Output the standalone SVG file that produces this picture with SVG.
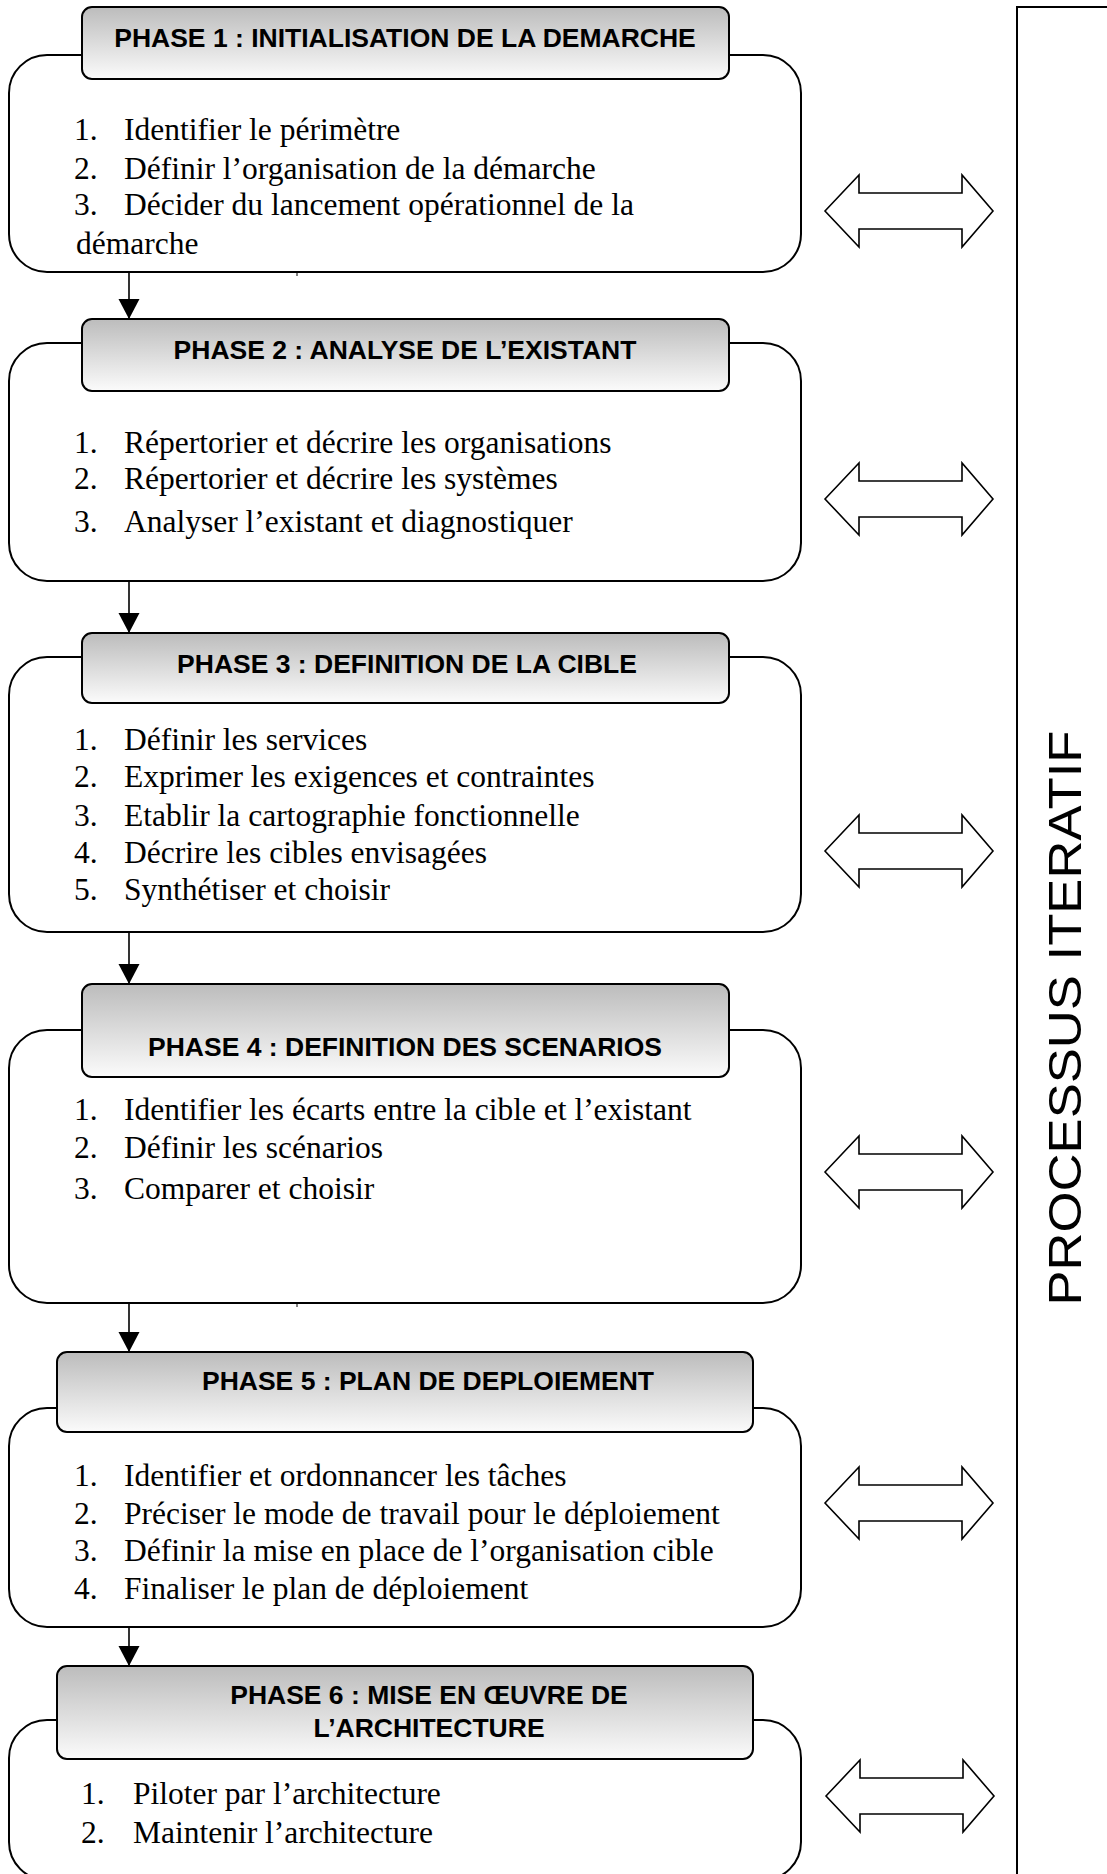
<svg xmlns="http://www.w3.org/2000/svg" width="1107" height="1874" viewBox="0 0 1107 1874">
  <style>
    .body { fill: #ffffff; stroke: #000000; stroke-width: 2; }
    .hdr { fill: url(#hdrGrad); stroke: #000000; stroke-width: 2; }
    .ht { font-family: "Liberation Sans", Arial, sans-serif; font-weight: bold; font-size: 26.5px; text-anchor: middle; fill: #000000; }
    .it { font-family: "Liberation Serif", "Times New Roman", serif; font-size: 31.5px; fill: #000000; }
    .dbl { fill: #ffffff; stroke: #000000; stroke-width: 1.6; }
    .conn { stroke: #000000; stroke-width: 1.6; fill: none; }
    .tick { stroke: #000000; stroke-width: 1; }
  </style>
  <defs>
    <linearGradient id="hdrGrad" x1="0" y1="0" x2="0" y2="1">
      <stop offset="0" stop-color="#bcbcbc"/>
      <stop offset="1" stop-color="#fbfbfb"/>
    </linearGradient>
    <marker id="arrowHead" markerUnits="userSpaceOnUse" markerWidth="22" markerHeight="22" refX="20" refY="10.5" orient="auto">
      <path d="M0,0 L20,10.5 L0,21 Z" fill="#000000"/>
    </marker>
    <path id="dblArrow" d="M0,0 L34,-36 L34,-18 L137,-18 L137,-36 L168,0 L137,36 L137,18 L34,18 L34,36 Z"/>
  </defs>

  <rect id="iteratif-frame" x="1017" y="7" width="200" height="1900" fill="none" stroke="#000000" stroke-width="2"/>
  <text id="iteratif-label" transform="translate(1081,1018) rotate(-90)" font-family="Liberation Sans, Arial, sans-serif" font-size="46" text-anchor="middle" textLength="575" lengthAdjust="spacingAndGlyphs">PROCESSUS ITERATIF</text>

  <g id="phase1">
    <rect class="body" x="9" y="55" width="792" height="217" rx="38"/>
    <rect class="hdr" x="82" y="7" width="647" height="72" rx="10"/>
    <text class="ht" x="405" y="47">PHASE 1 : INITIALISATION DE LA DEMARCHE</text>
    <text class="it" y="140"><tspan x="74">1.</tspan><tspan x="124">Identifier le périmètre</tspan></text>
    <text class="it" y="179"><tspan x="74">2.</tspan><tspan x="124">Définir l’organisation de la démarche</tspan></text>
    <text class="it" y="215"><tspan x="74">3.</tspan><tspan x="124">Décider du lancement opérationnel de la</tspan></text>
    <text class="it" x="76" y="254">démarche</text>
    <line class="tick" x1="297" y1="272" x2="297" y2="276"/>
  </g>

  <g id="phase2">
    <rect class="body" x="9" y="343" width="792" height="238" rx="38"/>
    <rect class="hdr" x="82" y="319" width="647" height="72" rx="10"/>
    <text class="ht" x="405" y="359">PHASE 2 : ANALYSE DE L’EXISTANT</text>
    <text class="it" y="453"><tspan x="74">1.</tspan><tspan x="124">Répertorier et décrire les organisations</tspan></text>
    <text class="it" y="489"><tspan x="74">2.</tspan><tspan x="124">Répertorier et décrire les systèmes</tspan></text>
    <text class="it" y="532"><tspan x="74">3.</tspan><tspan x="124">Analyser l’existant et diagnostiquer</tspan></text>
  </g>

  <g id="phase3">
    <rect class="body" x="9" y="657" width="792" height="275" rx="38"/>
    <rect class="hdr" x="82" y="633" width="647" height="70" rx="10"/>
    <text class="ht" x="407" y="673">PHASE 3 : DEFINITION DE LA CIBLE</text>
    <text class="it" y="750"><tspan x="74">1.</tspan><tspan x="124">Définir les services</tspan></text>
    <text class="it" y="787"><tspan x="74">2.</tspan><tspan x="124">Exprimer les exigences et contraintes</tspan></text>
    <text class="it" y="826"><tspan x="74">3.</tspan><tspan x="124">Etablir la cartographie fonctionnelle</tspan></text>
    <text class="it" y="863"><tspan x="74">4.</tspan><tspan x="124">Décrire les cibles envisagées</tspan></text>
    <text class="it" y="900"><tspan x="74">5.</tspan><tspan x="124">Synthétiser et choisir</tspan></text>
  </g>

  <g id="phase4">
    <rect class="body" x="9" y="1030" width="792" height="273" rx="38"/>
    <rect class="hdr" x="82" y="984" width="647" height="93" rx="10"/>
    <text class="ht" x="405" y="1056">PHASE 4 : DEFINITION DES SCENARIOS</text>
    <text class="it" y="1120"><tspan x="74">1.</tspan><tspan x="124">Identifier les écarts entre la cible et l’existant</tspan></text>
    <text class="it" y="1158"><tspan x="74">2.</tspan><tspan x="124">Définir les scénarios</tspan></text>
    <text class="it" y="1199"><tspan x="74">3.</tspan><tspan x="124">Comparer et choisir</tspan></text>
    <line class="tick" x1="297" y1="1303" x2="297" y2="1307"/>
  </g>

  <g id="phase5">
    <rect class="body" x="9" y="1408" width="792" height="219" rx="38"/>
    <rect class="hdr" x="57" y="1352" width="696" height="80" rx="10"/>
    <text class="ht" x="428" y="1390">PHASE 5 : PLAN DE DEPLOIEMENT</text>
    <text class="it" y="1486"><tspan x="74">1.</tspan><tspan x="124">Identifier et ordonnancer les tâches</tspan></text>
    <text class="it" y="1524"><tspan x="74">2.</tspan><tspan x="124">Préciser le mode de travail pour le déploiement</tspan></text>
    <text class="it" y="1561"><tspan x="74">3.</tspan><tspan x="124">Définir la mise en place de l’organisation cible</tspan></text>
    <text class="it" y="1599"><tspan x="74">4.</tspan><tspan x="124">Finaliser le plan de déploiement</tspan></text>
  </g>

  <g id="phase6">
    <rect class="body" x="9" y="1720" width="792" height="160" rx="38"/>
    <rect class="hdr" x="57" y="1666" width="696" height="93" rx="10"/>
    <text class="ht" x="429" y="1704">PHASE 6 : MISE EN ŒUVRE DE</text>
    <text class="ht" x="429" y="1737">L’ARCHITECTURE</text>
    <text class="it" y="1804"><tspan x="81">1.</tspan><tspan x="133">Piloter par l’architecture</tspan></text>
    <text class="it" y="1843"><tspan x="81">2.</tspan><tspan x="133">Maintenir l’architecture</tspan></text>
  </g>

  <g id="connectors">
    <line class="conn" x1="129" y1="272" x2="129" y2="319" marker-end="url(#arrowHead)"/>
    <line class="conn" x1="129" y1="581" x2="129" y2="633" marker-end="url(#arrowHead)"/>
    <line class="conn" x1="129" y1="932" x2="129" y2="984" marker-end="url(#arrowHead)"/>
    <line class="conn" x1="129" y1="1303" x2="129" y2="1352" marker-end="url(#arrowHead)"/>
    <line class="conn" x1="129" y1="1627" x2="129" y2="1666" marker-end="url(#arrowHead)"/>
  </g>

  <g id="iteration-arrows">
    <use class="dbl" href="#dblArrow" x="825" y="211"/>
    <use class="dbl" href="#dblArrow" x="825" y="499"/>
    <use class="dbl" href="#dblArrow" x="825" y="851"/>
    <use class="dbl" href="#dblArrow" x="825" y="1172"/>
    <use class="dbl" href="#dblArrow" x="825" y="1503"/>
    <use class="dbl" href="#dblArrow" x="826" y="1796"/>
  </g>
</svg>
